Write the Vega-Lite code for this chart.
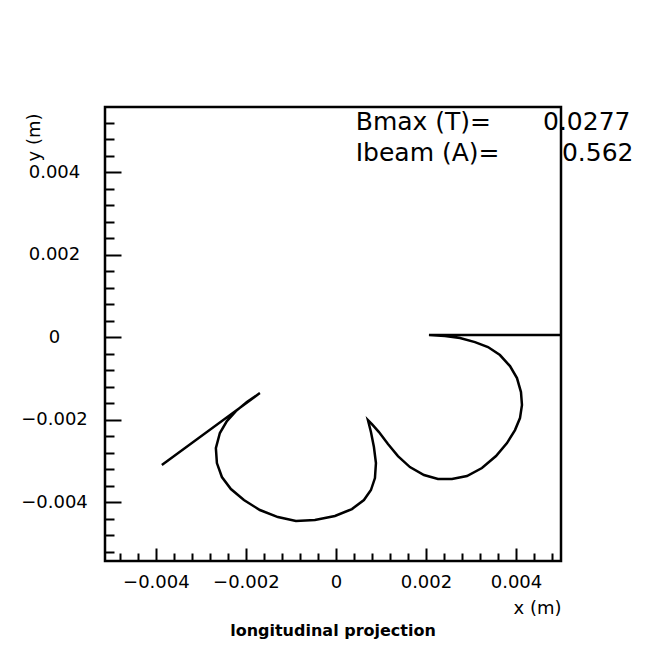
{
  "$schema": "https://vega.github.io/schema/vega-lite/v6.json",
  "width": 456,
  "height": 454,
  "autosize": {"type": "none"},
  "padding": {"left": 105, "top": 107, "right": 87, "bottom": 90},
  "background": "white",
  "config": {
    "view": {"stroke": "black", "strokeWidth": 2.5},
    "font": "DejaVu Sans"
  },
  "title": {
    "text": "longitudinal projection",
    "orient": "bottom",
    "anchor": "middle",
    "frame": "group",
    "font": "DejaVu Sans",
    "fontSize": 16,
    "fontWeight": "bold",
    "color": "black",
    "offset": 6
  },
  "data": {
    "values": [
      {"i": 0, "x": 0.00499, "y": 0.00005},
      {"i": 1, "x": 0.002067, "y": 0.00005},
      {"i": 2, "x": 0.002422, "y": 0.000024},
      {"i": 3, "x": 0.002756, "y": -0.000024},
      {"i": 4, "x": 0.003089, "y": -0.000121},
      {"i": 5, "x": 0.003378, "y": -0.000242},
      {"i": 6, "x": 0.003644, "y": -0.000436},
      {"i": 7, "x": 0.003867, "y": -0.000703},
      {"i": 8, "x": 0.004022, "y": -0.000994},
      {"i": 9, "x": 0.004111, "y": -0.001333},
      {"i": 10, "x": 0.004133, "y": -0.001648},
      {"i": 11, "x": 0.004089, "y": -0.001964},
      {"i": 12, "x": 0.003978, "y": -0.002255},
      {"i": 13, "x": 0.0038, "y": -0.00257},
      {"i": 14, "x": 0.003556, "y": -0.002885},
      {"i": 15, "x": 0.003244, "y": -0.003176},
      {"i": 16, "x": 0.002911, "y": -0.00337},
      {"i": 17, "x": 0.002578, "y": -0.003442},
      {"i": 18, "x": 0.002267, "y": -0.003442},
      {"i": 19, "x": 0.001956, "y": -0.003345},
      {"i": 20, "x": 0.001644, "y": -0.003152},
      {"i": 21, "x": 0.001378, "y": -0.002885},
      {"i": 22, "x": 0.001156, "y": -0.002594},
      {"i": 23, "x": 0.000956, "y": -0.002303},
      {"i": 24, "x": 0.0008, "y": -0.002109},
      {"i": 25, "x": 0.000711, "y": -0.002012},
      {"i": 26, "x": 0.000778, "y": -0.002303},
      {"i": 27, "x": 0.000844, "y": -0.002667},
      {"i": 28, "x": 0.000889, "y": -0.003055},
      {"i": 29, "x": 0.000867, "y": -0.003418},
      {"i": 30, "x": 0.000778, "y": -0.003709},
      {"i": 31, "x": 0.000622, "y": -0.003952},
      {"i": 32, "x": 0.000356, "y": -0.00417},
      {"i": 33, "x": -0.000022, "y": -0.004339},
      {"i": 34, "x": -0.000467, "y": -0.004436},
      {"i": 35, "x": -0.000889, "y": -0.004461},
      {"i": 36, "x": -0.001289, "y": -0.004364},
      {"i": 37, "x": -0.001689, "y": -0.004194},
      {"i": 38, "x": -0.002044, "y": -0.003952},
      {"i": 39, "x": -0.002333, "y": -0.003685},
      {"i": 40, "x": -0.002533, "y": -0.003394},
      {"i": 41, "x": -0.002644, "y": -0.003055},
      {"i": 42, "x": -0.002667, "y": -0.002691},
      {"i": 43, "x": -0.002578, "y": -0.002327},
      {"i": 44, "x": -0.002422, "y": -0.002036},
      {"i": 45, "x": -0.002222, "y": -0.001794},
      {"i": 46, "x": -0.001978, "y": -0.001576},
      {"i": 47, "x": -0.001689, "y": -0.001358},
      {"i": 48, "x": -0.003867, "y": -0.003103}
    ]
  },
  "layer": [
    {
      "mark": {"type": "line", "color": "black", "strokeWidth": 2.5, "clip": true},
      "encoding": {
        "x": {
          "field": "x",
          "type": "quantitative",
          "scale": {"domain": [-0.00513, 0.005], "nice": false, "zero": false},
          "axis": {
            "title": "x (m)",
            "titleFont": "DejaVu Sans",
            "titleFontSize": 18,
            "titleFontWeight": "normal",
            "titleColor": "black",
            "titleX": 432,
            "titleY": 47,
            "titleAlign": "center",
            "titleBaseline": "middle",
            "values": [-0.0048, -0.0044, -0.004, -0.0036, -0.0032, -0.0028, -0.0024, -0.002, -0.0016, -0.0012, -0.0008, -0.0004, 0, 0.0004, 0.0008, 0.0012, 0.0016, 0.002, 0.0024, 0.0028, 0.0032, 0.0036, 0.004, 0.0044, 0.0048],
            "tickCount": 100,
            "format": "~g",
            "labelExpr": "(abs(datum.value) < 1e-9 || abs(abs(datum.value) - 0.002) < 1e-9 || abs(abs(datum.value) - 0.004) < 1e-9) ? datum.label : ''",
            "labelFont": "DejaVu Sans",
            "labelFontSize": 18,
            "labelColor": "black",
            "labelPadding": 12,
            "labelFlush": false,
            "labelOverlap": false,
            "labelBound": false,
            "domain": false,
            "ticks": false,
            "grid": true,
            "gridColor": "black",
            "gridWidth": 2,
            "gridOpacity": 1,
            "gridDash": {"condition": {"test": "abs(datum.value) < 1e-9 || abs(abs(datum.value) - 0.002) < 1e-9 || abs(abs(datum.value) - 0.004) < 1e-9", "value": [0, 441, 13, 2000]}, "value": [0, 446, 8, 2000]}
          }
        },
        "y": {
          "field": "y",
          "type": "quantitative",
          "scale": {"domain": [-0.00543, 0.00558], "nice": false, "zero": false},
          "axis": {
            "title": "y (m)",
            "titleFont": "DejaVu Sans",
            "titleFontSize": 18,
            "titleFontWeight": "normal",
            "titleColor": "black",
            "titleX": -71,
            "titleY": 30,
            "titleAngle": -90,
            "titleAlign": "center",
            "titleBaseline": "middle",
            "values": [-0.0052, -0.0048, -0.0044, -0.004, -0.0036, -0.0032, -0.0028, -0.0024, -0.002, -0.0016, -0.0012, -0.0008, -0.0004, 0, 0.0004, 0.0008, 0.0012, 0.0016, 0.002, 0.0024, 0.0028, 0.0032, 0.0036, 0.004, 0.0044, 0.0048, 0.0052],
            "tickCount": 100,
            "format": "~g",
            "labelExpr": "(abs(datum.value) < 1e-9 || abs(abs(datum.value) - 0.002) < 1e-9 || abs(abs(datum.value) - 0.004) < 1e-9) ? datum.label : ''",
            "labelFont": "DejaVu Sans",
            "labelFontSize": 18,
            "labelColor": "black",
            "labelAlign": "center",
            "labelBaseline": "middle",
            "labelPadding": 51,
            "labelFlush": false,
            "labelOverlap": false,
            "labelBound": false,
            "domain": false,
            "ticks": false,
            "grid": true,
            "gridColor": "black",
            "gridWidth": 2,
            "gridOpacity": 1,
            "gridDash": {"condition": {"test": "abs(datum.value) < 1e-9 || abs(abs(datum.value) - 0.002) < 1e-9 || abs(abs(datum.value) - 0.004) < 1e-9", "value": [16, 2000]}, "value": [9, 2000]}
          }
        },
        "order": {"field": "i", "type": "quantitative"}
      }
    },
    {
      "data": {"values": [{"t": "Bmax (T)="}]},
      "mark": {"type": "text", "align": "left", "baseline": "alphabetic", "fontSize": 25, "font": "DejaVu Sans", "color": "black"},
      "encoding": {
        "x": {"datum": 0.00044, "type": "quantitative"},
        "y": {"datum": 0.00502, "type": "quantitative"},
        "text": {"field": "t"}
      }
    },
    {
      "data": {"values": [{"t": "0.0277"}]},
      "mark": {"type": "text", "align": "left", "baseline": "alphabetic", "fontSize": 25, "font": "DejaVu Sans", "color": "black"},
      "encoding": {
        "x": {"datum": 0.0046, "type": "quantitative"},
        "y": {"datum": 0.00502, "type": "quantitative"},
        "text": {"field": "t"}
      }
    },
    {
      "data": {"values": [{"t": "Ibeam (A)="}]},
      "mark": {"type": "text", "align": "left", "baseline": "alphabetic", "fontSize": 25, "font": "DejaVu Sans", "color": "black"},
      "encoding": {
        "x": {"datum": 0.00044, "type": "quantitative"},
        "y": {"datum": 0.00427, "type": "quantitative"},
        "text": {"field": "t"}
      }
    },
    {
      "data": {"values": [{"t": "0.562"}]},
      "mark": {"type": "text", "align": "left", "baseline": "alphabetic", "fontSize": 25, "font": "DejaVu Sans", "color": "black"},
      "encoding": {
        "x": {"datum": 0.00502, "type": "quantitative"},
        "y": {"datum": 0.00427, "type": "quantitative"},
        "text": {"field": "t"}
      }
    }
  ]
}
